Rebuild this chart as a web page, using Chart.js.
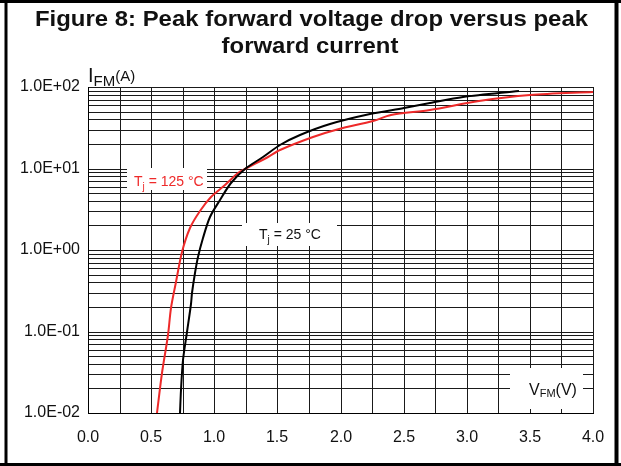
<!DOCTYPE html>
<html>
<head>
<meta charset="utf-8">
<script src="https://cdn.jsdelivr.net/npm/chart.js@4/dist/chart.umd.min.js"></script>
<style>
  html,body{margin:0;padding:0;background:#fff;}
  canvas{display:block;}
</style>
</head>
<body>
<canvas id="c" width="621" height="466"></canvas>
<script>
// Tj = 25 °C curve (V, A)
const volts25 = [0.727, 0.735, 0.756, 0.782, 0.814, 0.827, 0.850, 0.870, 0.911, 0.964, 1.044, 1.136, 1.240, 1.387, 1.520, 1.677, 1.915, 2.230, 2.500, 2.710, 2.970, 3.410];
const amps25  = [0.010, 0.0193, 0.045, 0.100, 0.220, 0.300, 0.520, 0.820, 1.42, 2.56, 4.10, 6.60, 10.0, 14.0, 19.3, 25.6, 35.6, 47.2, 56.0, 63.7, 75.5, 89.0];
// Tj = 125 °C curve (V, A)
const volts125 = [0.547, 0.590, 0.632, 0.661, 0.700, 0.745, 0.806, 0.885, 0.978, 1.083, 1.189, 1.240, 1.426, 1.520, 1.780, 1.990, 2.260, 2.400, 2.710, 3.100, 3.500, 4.000];
const amps125  = [0.010, 0.031, 0.091, 0.193, 0.400, 0.950, 1.85, 3.00, 4.50, 6.30, 8.70, 10.0, 13.9, 16.8, 24.4, 30.9, 38.4, 45.9, 51.5, 67.0, 80.0, 86.0];

const yTicks = [];
[0.01, 0.1, 1, 10].forEach(d=>{ for(let k=1;k<10;k++) yTicks.push(+(k*d).toPrecision(2)); });
yTicks.push(100);
const xStep = 0.25;

const FONT = '"Liberation Sans", Arial, Helvetica, sans-serif';
const RED = '#ee2a2a';

function fmtExp(v){
  const e = Math.round(Math.log10(v));
  return '1.0E' + (e<0?'-':'+') + String(Math.abs(e)).padStart(2,'0');
}

// draw text made of pieces [text, size, dy]
function drawParts(ctx, x, y, parts, color){
  ctx.save();
  ctx.fillStyle = color; ctx.textBaseline = 'alphabetic'; ctx.textAlign = 'left';
  parts.forEach(([t,s,dy])=>{
    ctx.font = s+'px '+FONT;
    ctx.fillText(t, x, y+dy);
    x += ctx.measureText(t).width;
  });
  ctx.restore();
}

const decor = {
  id:'decor',
  beforeDatasetsDraw(chart){
    const ctx = chart.ctx;
    ctx.save();
    ctx.fillStyle = '#fff';
    ctx.fillRect(127, 168, 80, 22);
    ctx.fillRect(242, 223, 95, 23);
    ctx.fillRect(510, 368, 73, 41);
    ctx.restore();
    drawParts(ctx, 134, 186, [['T',14,0],['j',10,4],[' = 125 °C',14,0]], RED);
    drawParts(ctx, 259, 239, [['T',14,0],['j',10,4],[' = 25 °C',14,0]], '#111');
    drawParts(ctx, 529, 395, [['V',16,0],['FM',11,2],['(V)',16,0]], '#111');
  },
  afterDraw(chart){
    const ctx = chart.ctx;
    ctx.save();
    // title
    ctx.fillStyle = '#111';
    ctx.textAlign = 'center'; ctx.textBaseline = 'alphabetic';
    ctx.font = 'bold 22px '+FONT;
    const l1 = 'Figure 8: Peak forward voltage drop versus peak';
    const l2 = 'forward current';
    const sx = 553 / ctx.measureText(l1).width;
    ctx.save(); ctx.translate(311.5, 26); ctx.scale(sx,1); ctx.fillText(l1,0,0); ctx.restore();
    ctx.save(); ctx.translate(310, 53); ctx.scale(sx,1); ctx.fillText(l2,0,0); ctx.restore();
    // frame
    ctx.strokeStyle = '#000';
    ctx.lineWidth = 3;
    ctx.beginPath();
    ctx.moveTo(6, 0); ctx.lineTo(6, 466);
    ctx.moveTo(0, 1.5); ctx.lineTo(621, 1.5);
    ctx.moveTo(0, 464.5); ctx.lineTo(621, 464.5);
    ctx.stroke();
    ctx.lineWidth = 4;
    ctx.beginPath(); ctx.moveTo(616.5, 0); ctx.lineTo(616.5, 466); ctx.stroke();
    ctx.restore();
    // y axis name
    drawParts(ctx, 88, 82, [['I',20,0],['FM',15,4],['(A)',15,-1]], '#111');
  }
};

new Chart(document.getElementById('c'), {
  type:'line',
  data:{
    datasets:[
      {label:'Tj = 25 °C', data:volts25.map((v,i)=>({x:v,y:amps25[i]})), borderColor:'#000', borderWidth:2, pointRadius:0, tension:0.3},
      {label:'Tj = 125 °C', data:volts125.map((v,i)=>({x:v,y:amps125[i]})), borderColor:RED, borderWidth:2, pointRadius:0, tension:0.3}
    ]
  },
  options:{
    responsive:false, animation:false,
    layout:{padding:{top:87, right:28, bottom:0, left:0}},
    plugins:{legend:{display:false}, tooltip:{enabled:false}},
    scales:{
      x:{
        type:'linear', min:0, max:4, alignToPixels:true,
        afterFit:s=>{ s.height = 53; },
        ticks:{stepSize:xStep, autoSkip:false, maxRotation:0, padding:15, color:'#111', font:{family:FONT, size:16},
          callback:v=>Math.abs(v*2-Math.round(v*2))<1e-9 ? v.toFixed(1) : ''},
        grid:{color:'#1a1a1a', lineWidth:1, drawTicks:false},
        border:{color:'#000', width:1}
      },
      y:{
        type:'logarithmic', min:0.01, max:100, alignToPixels:true,
        afterFit:s=>{ s.width = 88; },
        afterBuildTicks:s=>{ s.ticks = yTicks.map(v=>({value:v})); },
        ticks:{autoSkip:false, padding:8, color:'#111', font:{family:FONT, size:16},
          callback:v=>{ const l=Math.log10(v); return Math.abs(l-Math.round(l))<1e-6 ? fmtExp(v) : ''; }},
        grid:{color:'#1a1a1a', lineWidth:1, drawTicks:false},
        border:{color:'#000', width:1}
      }
    }
  },
  plugins:[decor]
});
</script>
</body>
</html>
